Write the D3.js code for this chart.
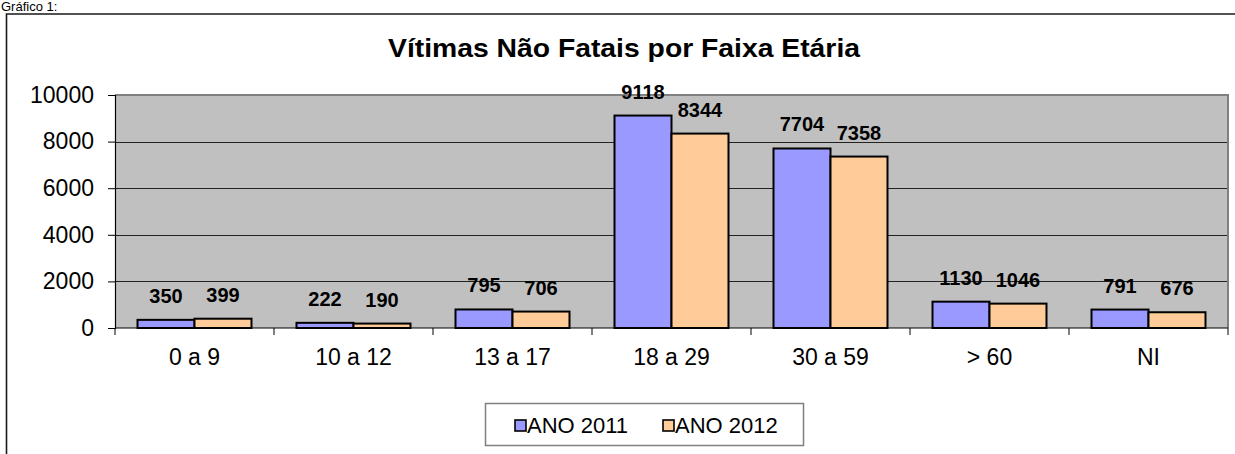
<!DOCTYPE html>
<html>
<head>
<meta charset="utf-8">
<script src="https://cdn.jsdelivr.net/npm/d3@7"></script>
<style>
  html, body { margin: 0; padding: 0; background: #fff; }
  svg { display: block; font-family: "Liberation Sans", Arial, sans-serif; }
</style>
</head>
<body>
<svg id="chart" width="1235" height="454"></svg>
<script>
// Age groups and yearly counts of non-fatal victims
const categories = ["0 a 9", "10 a 12", "13 a 17", "18 a 29", "30 a 59", "> 60", "NI"];
const series = ["ANO 2011", "ANO 2012"];
const values2011 = [350, 222, 795, 9118, 7704, 1130, 791];
const values2012 = [399, 190, 706, 8344, 7358, 1046, 676];
const yTicks = [0, 2000, 4000, 6000, 8000, 10000];
const colors = ["#9999FF", "#FFCC99"];

const svg = d3.select("#chart");
const W = 1235, H = 454;
svg.append("rect").attr("width", W).attr("height", H).attr("fill", "#fff");

// caption above the frame
svg.append("text").attr("x", 1).attr("y", 11)
  .attr("font-size", 13).attr("fill", "#000").text("Gráfico 1:");

// outer chart frame
svg.append("path").attr("d", `M6.5,${H + 10} V14 H${W + 10}`)
  .attr("fill", "none").attr("stroke", "#1a1a1a").attr("stroke-width", 1.6);

const plot = { left: 115, right: 1228, top: 95, bottom: 328 };

const x = d3.scaleBand().domain(categories).range([plot.left, plot.right]).padding(0);
const x1 = d3.scaleBand().domain(series).range([0, x.bandwidth()])
  .paddingInner(0).paddingOuter(0.395);
const y = d3.scaleLinear().domain([0, 10000]).range([plot.bottom, plot.top]);

// plot background
svg.append("rect")
  .attr("x", plot.left).attr("y", plot.top)
  .attr("width", plot.right - plot.left).attr("height", plot.bottom - plot.top)
  .attr("fill", "#C0C0C0");

// horizontal gridlines
svg.append("g").selectAll("line")
  .data(yTicks.filter(t => t > 0 && t < 10000))
  .join("line")
  .attr("x1", plot.left).attr("x2", plot.right)
  .attr("y1", d => Math.round(y(d)) + 0.5).attr("y2", d => Math.round(y(d)) + 0.5)
  .attr("stroke", "#222").attr("stroke-width", 1);

// plot border (top and right)
svg.append("path")
  .attr("d", `M${plot.left},${plot.top} H${plot.right} V${plot.bottom}`)
  .attr("fill", "none").attr("stroke", "#808080").attr("stroke-width", 2);

// bars
const groups = svg.append("g").selectAll("g")
  .data(categories.map((c, i) => ({ c, vals: [values2011[i], values2012[i]] })))
  .join("g")
  .attr("transform", d => `translate(${x(d.c)},0)`);

groups.selectAll("rect")
  .data(d => d.vals.map((v, j) => ({ s: series[j], v, j })))
  .join("rect")
  .attr("x", d => x1(d.s))
  .attr("y", d => y(d.v))
  .attr("width", x1.bandwidth())
  .attr("height", d => y(0) - y(d.v))
  .attr("fill", d => colors[d.j])
  .attr("stroke", "#000").attr("stroke-width", 2);

// value labels
groups.selectAll("text")
  .data(d => d.vals.map((v, j) => ({ s: series[j], v, j })))
  .join("text")
  .attr("x", d => x1(d.s) + x1.bandwidth() / 2)
  .attr("y", d => y(d.v) - 17)
  .attr("text-anchor", "middle")
  .attr("font-size", 20).attr("font-weight", "bold").attr("fill", "#000")
  .text(d => d.v);

// y axis
const yAxis = d3.axisLeft(y).tickValues(yTicks).tickSize(7).tickPadding(14)
  .tickFormat(d3.format("d"));
const gy = svg.append("g").attr("transform", `translate(${plot.left},0)`).call(yAxis);
gy.select(".domain").attr("stroke", "#000").attr("stroke-width", 1.2);
gy.selectAll(".tick line").attr("stroke", "#000");
gy.selectAll(".tick text").attr("font-size", 23).attr("fill", "#000")
  .attr("font-family", "'Liberation Sans', Arial, sans-serif");

// x axis with ticks at category boundaries
const gx = svg.append("g").attr("transform", `translate(0,${plot.bottom})`);
gx.append("line").attr("x1", plot.left).attr("x2", plot.right)
  .attr("stroke", "#000").attr("stroke-width", 1.2);
gx.selectAll("line.tk")
  .data(categories.map(c => x(c)).concat([plot.right]))
  .join("line").attr("class", "tk")
  .attr("x1", d => d).attr("x2", d => d).attr("y1", 0).attr("y2", 7)
  .attr("stroke", "#000");
gx.selectAll("text")
  .data(categories)
  .join("text")
  .attr("x", d => x(d) + x.bandwidth() / 2)
  .attr("y", 37)
  .attr("text-anchor", "middle")
  .attr("font-size", 23).attr("fill", "#000")
  .text(d => d);

// title
svg.append("text")
  .attr("x", 624).attr("y", 56.5)
  .attr("text-anchor", "middle")
  .attr("font-size", 25).attr("font-weight", "bold").attr("fill", "#000")
  .attr("textLength", 472).attr("lengthAdjust", "spacingAndGlyphs")
  .text("Vítimas Não Fatais por Faixa Etária");

// legend
const lg = svg.append("g");
lg.append("rect").attr("x", 485.5).attr("y", 403.5).attr("width", 318).attr("height", 42)
  .attr("fill", "#fff").attr("stroke", "#808080").attr("stroke-width", 1.5);
const legendX = [515, 663];
series.forEach((s, j) => {
  lg.append("rect").attr("x", legendX[j]).attr("y", 420).attr("width", 11).attr("height", 11)
    .attr("fill", colors[j]).attr("stroke", "#000").attr("stroke-width", 1.6);
  lg.append("text").attr("x", legendX[j] + 12).attr("y", 433)
    .attr("font-size", 22).attr("fill", "#000").text(s);
});
</script>
</body>
</html>
